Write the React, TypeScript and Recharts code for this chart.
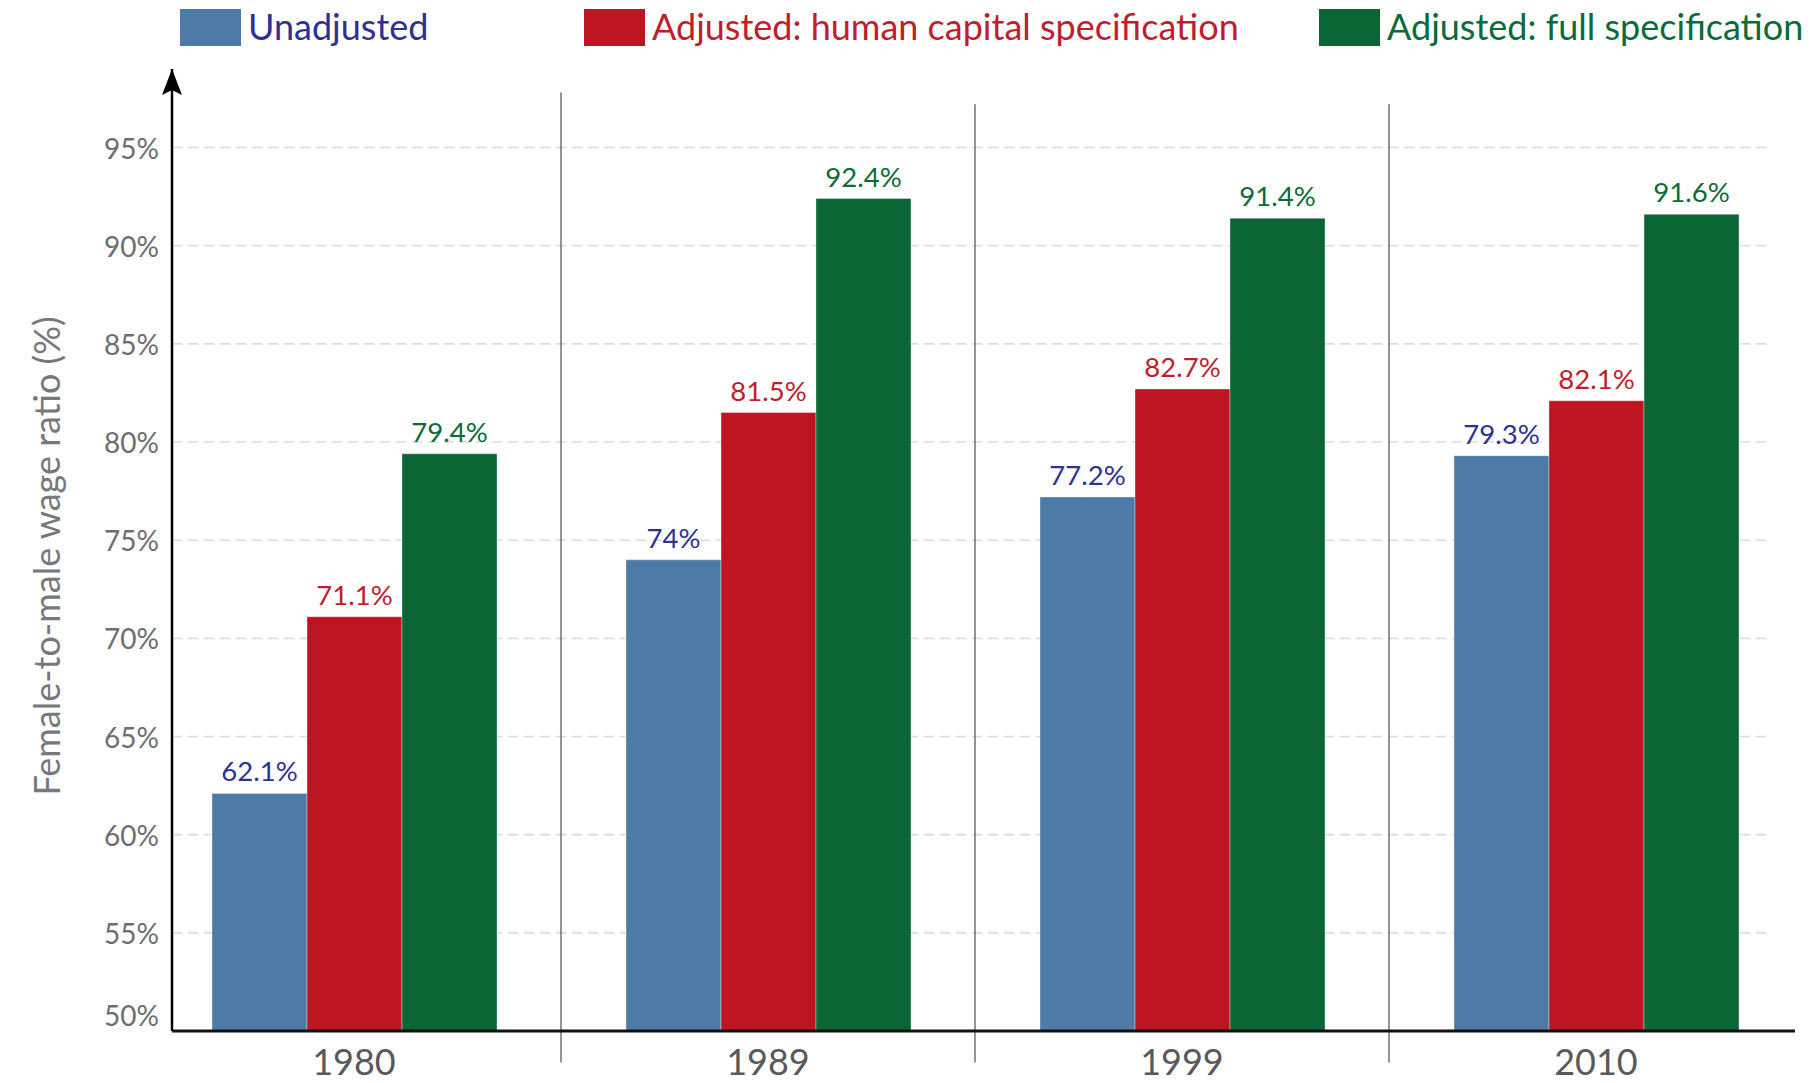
import React from 'react';
import { BarChart, Bar, XAxis, YAxis, ReferenceLine, LabelList, Legend, Label } from 'recharts';

const years = ['1980', '1989', '1999', '2010'];
const unadjusted = [62.1, 74, 77.2, 79.3];
const humanCapital = [71.1, 81.5, 82.7, 82.1];
const fullSpecification = [79.4, 92.4, 91.4, 91.6];
const seriesKeys = ['unadjusted', 'humanCapital', 'fullSpecification'];
const seriesNames = ['Unadjusted', 'Adjusted: human capital specification', 'Adjusted: full specification'];
const yTicks = [50, 55, 60, 65, 70, 75, 80, 85, 90, 95];
const separatorYears = ['1989', '1999', '2010'];
const separatorTops = [97.8, 97.2, 97.2];
const yAxisTitle = 'Female-to-male wage ratio (%)';

const data = years.map((year, i) => ({
  year,
  unadjusted: unadjusted[i],
  humanCapital: humanCapital[i],
  fullSpecification: fullSpecification[i],
}));

const FONT = 'Lato, "Open Sans", sans-serif';
const barColors = ['#4e7aa8', '#bd1622', '#0a6635'];
const textColors = ['#2e3192', '#be1e2d', '#0b6b38'];
const legendLefts = [180, 584, 1319];
const Y_MAX = 99;

const YTick = (props: any) => {
  const { x, y, payload } = props;
  const lift = payload.value === 50 ? -16 : 0;
  return (
    <text
      x={x - 13}
      y={y + lift}
      textAnchor="end"
      dominantBaseline="central"
      fill="#6d6e71"
      fontSize={28}
      fontFamily={FONT}
    >
      {payload.value}%
    </text>
  );
};

const YTitle = (props: any) => {
  const vb = props.viewBox || { x: 112, y: 69, width: 60, height: 962 };
  const cx = vb.x + vb.width - 126;
  const cy = vb.y + vb.height / 2 + 6;
  return (
    <text
      x={cx}
      y={cy}
      transform={`rotate(-90, ${cx}, ${cy})`}
      textAnchor="middle"
      dominantBaseline="central"
      fill="#77787b"
      fontSize={36}
      fontFamily={FONT}
    >
      {yAxisTitle}
    </text>
  );
};

const GridLine = (props: any) => {
  const { x1, y1, x2, y2 } = props;
  return (
    <line
      x1={Math.min(x1, x2)}
      y1={y1}
      x2={Math.max(x1, x2) - 27}
      y2={y2}
      stroke="#dcdcdc"
      strokeWidth={1.6}
      strokeDasharray="10 6"
    />
  );
};

const LegendContent = () => (
  <div style={{ position: 'relative', width: 1818, height: 0 }}>
    {seriesNames.map((name, i) => (
      <div
        key={name}
        style={{
          position: 'absolute',
          left: legendLefts[i],
          top: 9,
          height: 37,
          display: 'flex',
          alignItems: 'center',
          whiteSpace: 'nowrap',
        }}
      >
        <div style={{ width: 61, height: 37, background: barColors[i] }} />
        <span
          style={{
            marginLeft: 7,
            color: textColors[i],
            fontSize: 36,
            fontFamily: FONT,
            lineHeight: '37px',
            marginTop: -3,
          }}
        >
          {name}
        </span>
      </div>
    ))}
  </div>
);

export default function App() {
  return (
    <div style={{ position: 'absolute', left: 0, top: 0, width: 1818, height: 1083, background: '#ffffff' }}>
      <svg width={0} height={0} style={{ position: 'absolute' }}>
        <defs>
          <marker
            id="yArrow"
            viewBox="0 0 20 26"
            markerUnits="userSpaceOnUse"
            markerWidth={20}
            markerHeight={26}
            refX={10}
            refY={0}
            orient="0"
          >
            <path d="M10,0 L20,26 L10,21 L0,26 Z" fill="#000" />
          </marker>
        </defs>
      </svg>
      <BarChart
        width={1818}
        height={1083}
        data={data}
        margin={{ top: 69, right: 23, bottom: 12, left: 112 }}
        barGap={0}
        barSize={95}
      >
        <XAxis
          dataKey="year"
          height={40}
          padding={{ left: -25, right: -8 }}
          axisLine={{ stroke: '#111111', strokeWidth: 3 }}
          tickLine={false}
          tickSize={0}
          tickMargin={18}
          interval={0}
          tick={{ fill: '#58595b', fontSize: 36, fontFamily: FONT }}
        />
        <YAxis
          domain={[50, Y_MAX]}
          ticks={yTicks}
          width={60}
          axisLine={{ stroke: '#000000', strokeWidth: 2.5, markerStart: 'url(#yArrow)' }}
          tickLine={false}
          tickSize={0}
          tickMargin={0}
          allowDataOverflow
          tick={<YTick />}
        >
          <Label content={<YTitle />} />
        </YAxis>

        {yTicks
          .filter((t) => t > 50)
          .map((t) => (
            <ReferenceLine key={`g${t}`} y={t} shape={<GridLine />} zIndex={-100} />
          ))}

        {separatorYears.map((yr, i) => (
          <ReferenceLine
            key={`s${yr}`}
            segment={[{ x: yr, y: separatorTops[i] }, { x: yr, y: 48.4 }]}
            position="start"
            stroke="#4d4d4d"
            strokeWidth={1.2}
            ifOverflow="visible"
          />
        ))}

        {seriesKeys.map((k, i) => (
          <Bar
            key={k}
            dataKey={k}
            name={seriesNames[i]}
            fill={barColors[i]}
            stroke="#ffffff"
            strokeOpacity={0.35}
            strokeWidth={1}
            isAnimationActive={false}
          >
            <LabelList
              dataKey={k}
              position="top"
              offset={12}
              formatter={(v: any) => `${v}%`}
              fill={textColors[i]}
              fontSize={27.5}
              fontFamily={FONT}
            />
          </Bar>
        ))}

        <Legend
          verticalAlign="top"
          content={<LegendContent />}
          wrapperStyle={{ position: 'absolute', top: 0, left: 0, width: 1818, height: 0, margin: 0, padding: 0 }}
        />
      </BarChart>
    </div>
  );
}
